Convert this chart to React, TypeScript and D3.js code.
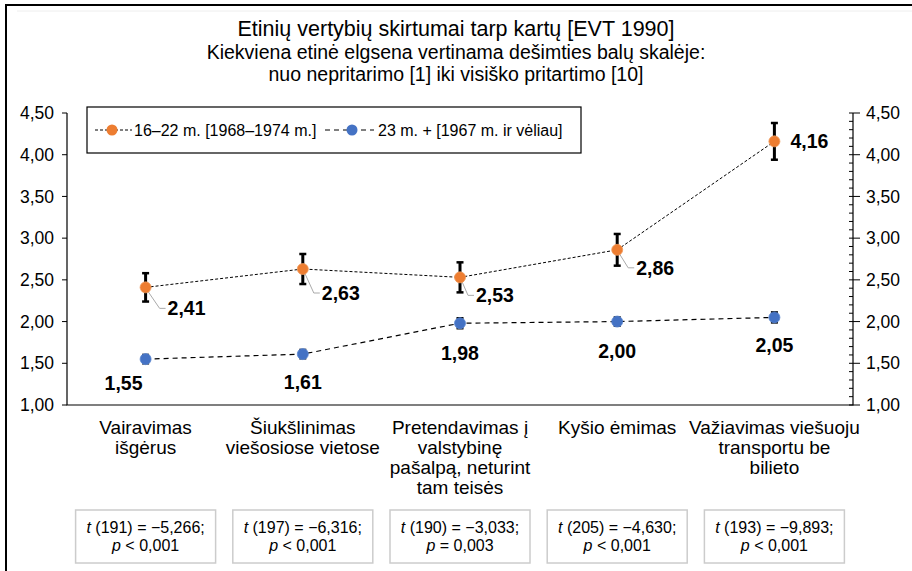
import React from 'react';
import * as d3 from 'd3';

const categories = [
  ['Vairavimas', 'išgėrus'],
  ['Šiukšlinimas', 'viešosiose vietose'],
  ['Pretendavimas į', 'valstybinę', 'pašalpą, neturint', 'tam teisės'],
  ['Kyšio ėmimas'],
  ['Važiavimas viešuoju', 'transportu be', 'bilieto'],
];
const youngValues = [2.41, 2.63, 2.53, 2.86, 4.16];
const youngErr = [0.17, 0.18, 0.18, 0.19, 0.22];
const olderValues = [1.55, 1.61, 1.98, 2.0, 2.05];
const olderErr = [0.05, 0.05, 0.06, 0.05, 0.06];
const tDf = [191, 197, 190, 205, 193];
const tValues = ['−5,266', '−6,316', '−3,033', '−4,630', '−9,893'];
const pValues = ['< 0,001', '< 0,001', '= 0,003', '< 0,001', '< 0,001'];
const yTicks = [1, 1.5, 2, 2.5, 3, 3.5, 4, 4.5];
const seriesNames = ['16–22 m. [1968–1974 m.]', '23 m. + [1967 m. ir vėliau]'];

const ORANGE = '#ED7D31';
const BLUE = '#4472C4';
const FONT = '"Liberation Sans", Arial, Helvetica, sans-serif';

const W = 912;
const H = 571;
const left = 67;
const right = 853;
const top = 113;
const bottom = 405;

// label placement (layout only)
const youngLabelDx = [22, 19, 16, 19, 16];
const youngLabelDy = [21, 24, 18, 18, 0];
const olderLabelDx = [-22, 0, 0, 0, 0];
const olderLabelDy = [24, 28, 30, 30, 28];

const locale = d3.formatLocale({ decimal: ',', thousands: ' ', grouping: [3], currency: ['', ''] });
const fmt = locale.format('.2f');

const App: React.FC = () => {
  const x = d3.scaleBand<number>().domain(d3.range(categories.length)).range([left, right]);
  const y = d3.scaleLinear().domain([1, 4.5]).range([bottom, top]);
  const cx = (i: number) => (x(i) as number) + x.bandwidth() / 2;

  const line = d3.line<number>().x((d, i) => cx(i)).y((d) => y(d));
  const minorTicks = d3.range(10, 46).map((v) => v / 10).filter((v) => Math.round(v * 10) % 5 !== 0);

  const errBar = (v: number, e: number, i: number, key: string) => (
    <g key={key} stroke="#000">
      <line x1={cx(i)} x2={cx(i)} y1={y(v + e)} y2={y(v - e)} strokeWidth={3} />
      <line x1={cx(i) - 3.5} x2={cx(i) + 3.5} y1={y(v + e)} y2={y(v + e)} strokeWidth={2.5} />
      <line x1={cx(i) - 3.5} x2={cx(i) + 3.5} y1={y(v - e)} y2={y(v - e)} strokeWidth={2.5} />
    </g>
  );

  return (
    <svg width={W} height={H} style={{ position: 'absolute', left: 0, top: 0, background: '#fff' }} fontFamily={FONT}>
      <rect x={6} y={5} width={W + 20} height={H + 20} fill="#fff" stroke="#000" strokeWidth={2} />
      <line x1={17} x2={W} y1={11} y2={11} stroke="#eee" />

      {/* title */}
      <text x={456} y={36} textAnchor="middle" fontSize={21.5}>Etinių vertybių skirtumai tarp kartų [EVT 1990]</text>
      <text x={456} y={59} textAnchor="middle" fontSize={19.5}>Kiekviena etinė elgsena vertinama dešimties balų skalėje:</text>
      <text x={456} y={81} textAnchor="middle" fontSize={19.5}>nuo nepritarimo [1] iki visiško pritartimo [10]</text>

      {/* axes */}
      <path d={`M${left},${top}V${bottom}H${right}V${top}`} fill="none" stroke="#000" strokeWidth={1.2} />
      {yTicks.map((t) => (
        <g key={'yl' + t}>
          <line x1={left - 5} x2={left} y1={y(t)} y2={y(t)} stroke="#000" />
          <text x={54} y={y(t)} dy="0.35em" textAnchor="end" fontSize={17.5}>{fmt(t)}</text>
          <line x1={right - 4} x2={right + 7} y1={y(t)} y2={y(t)} stroke="#000" />
          <text x={866} y={y(t)} dy="0.35em" fontSize={17.5}>{fmt(t)}</text>
        </g>
      ))}
      {minorTicks.map((t) => (
        <line key={'mt' + t} x1={right - 4} x2={right} y1={y(t)} y2={y(t)} stroke="#000" />
      ))}

      {/* legend */}
      <rect x={87} y={107} width={494} height={46} fill="#fff" stroke="#000" strokeWidth={1.2} />
      <line x1={95} x2={132} y1={130} y2={130} stroke="#000" strokeDasharray="3,2" />
      <circle cx={112} cy={130} r={5.5} fill={ORANGE} />
      <text x={134} y={130} dy="0.35em" fontSize={16}>{seriesNames[0]}</text>
      <line x1={325} x2={374} y1={130} y2={130} stroke="#000" strokeDasharray="5,4" />
      <circle cx={352} cy={130} r={5.5} fill={BLUE} />
      <text x={378} y={130} dy="0.35em" fontSize={16}>{seriesNames[1]}</text>

      {/* older series */}
      <path d={line(olderValues) || ''} fill="none" stroke="#000" strokeWidth={1.2} strokeDasharray="5,4" />
      {olderValues.map((v, i) => errBar(v, olderErr[i], i, 'oe' + i))}
      {olderValues.map((v, i) => (
        <circle key={'oc' + i} cx={cx(i)} cy={y(v)} r={5.5} fill={BLUE} stroke="#5b86d0" strokeWidth={0.8} />
      ))}
      {olderValues.map((v, i) => (
        <text key={'ot' + i} x={cx(i) + olderLabelDx[i]} y={y(v) + olderLabelDy[i]} dy="0.35em" textAnchor="middle" fontSize={19.5} fontWeight="bold">{fmt(v)}</text>
      ))}

      {/* young series */}
      <path d={line(youngValues) || ''} fill="none" stroke="#000" strokeWidth={1} strokeDasharray="3,2" />
      {youngValues.map((v, i) => errBar(v, youngErr[i], i, 'ye' + i))}
      {youngValues.map((v, i) => (
        youngLabelDy[i] > 0 ? (
          <polyline key={'yl' + i} fill="none" stroke="#aaa" strokeWidth={1}
            points={`${cx(i) + 1},${y(v) + 2} ${cx(i) + youngLabelDx[i] - 8},${y(v) + youngLabelDy[i]} ${cx(i) + youngLabelDx[i] - 2},${y(v) + youngLabelDy[i]}`} />
        ) : null
      ))}
      {youngValues.map((v, i) => (
        <circle key={'yc' + i} cx={cx(i)} cy={y(v)} r={5.5} fill={ORANGE} stroke="#f09a5c" strokeWidth={0.8} />
      ))}
      {youngValues.map((v, i) => (
        <text key={'yt' + i} x={cx(i) + youngLabelDx[i]} y={y(v) + youngLabelDy[i]} dy="0.35em" fontSize={19.5} fontWeight="bold">{fmt(v)}</text>
      ))}

      {/* category labels */}
      {categories.map((lines, i) => (
        <text key={'c' + i} x={cx(i)} y={434} textAnchor="middle" fontSize={19}>
          {lines.map((l, j) => (
            <tspan key={j} x={cx(i)} dy={j === 0 ? 0 : 20}>{l}</tspan>
          ))}
        </text>
      ))}

      {/* t-test boxes */}
      {tDf.map((df, i) => (
        <g key={'b' + i}>
          <rect x={cx(i) - 70} y={510} width={140} height={53} fill="#fff" stroke="#ccc" strokeWidth={1.5} />
          <text x={cx(i)} y={533} textAnchor="middle" fontSize={16}>
            <tspan fontStyle="italic">t</tspan> ({df}) = {tValues[i]};
          </text>
          <text x={cx(i)} y={551} textAnchor="middle" fontSize={16}>
            <tspan fontStyle="italic">p</tspan> {pValues[i]}
          </text>
        </g>
      ))}
    </svg>
  );
};

export default App;
